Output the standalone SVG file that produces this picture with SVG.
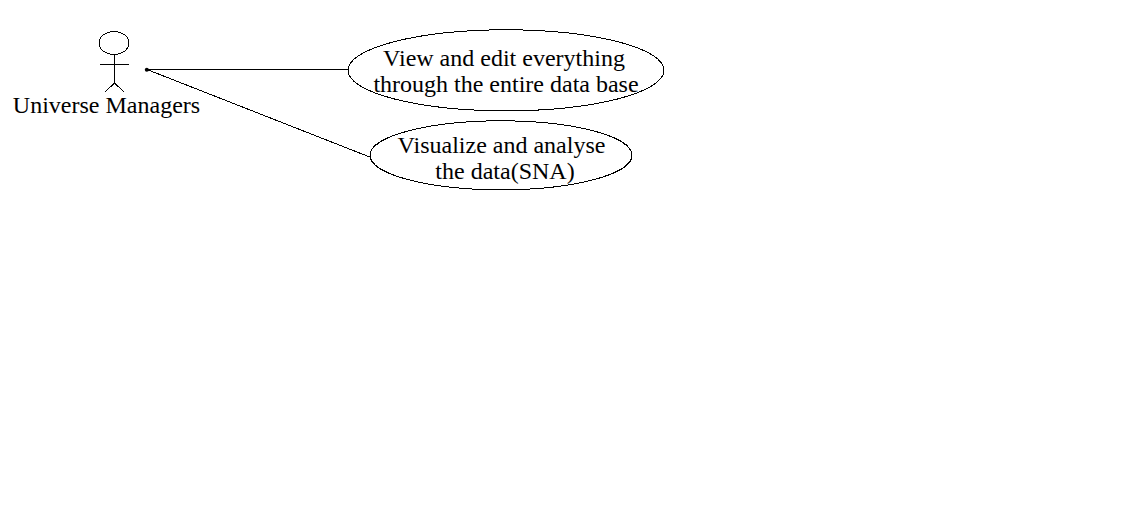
<svg xmlns="http://www.w3.org/2000/svg" width="1147" height="520" viewBox="0 0 1147 520">
<style>
.s{fill:none;stroke:#000;stroke-width:1;shape-rendering:crispEdges}
.t{font-family:"Liberation Serif",serif;font-size:24px;fill:#000;text-anchor:middle}
</style>
<rect width="1147" height="520" fill="#fff"/>
<g id="connectors">
<line class="s" x1="147" y1="69.5" x2="348" y2="69.5"/>
<line class="s" x1="147" y1="69.5" x2="371" y2="157.500"/>
<circle cx="146.8" cy="69.8" r="2" fill="#000"/>
</g>
<g id="actor">
<ellipse class="s" cx="114" cy="43" rx="15" ry="11.5"/>
<path class="s" d="M114.5 55V83M100 64.5H129M114.5 83L105 92M114.5 83L124 92"/>
<text class="t" x="106.500" y="113">Universe Managers</text>
</g>
<g id="usecase1">
<ellipse class="s" cx="506" cy="70.300" rx="158" ry="40.500"/>
<text class="t" x="504" y="65.500">View and edit everything</text>
<text class="t" x="506" y="91.500">through the entire data base</text>
</g>
<g id="usecase2">
<ellipse class="s" cx="501" cy="155.300" rx="131" ry="34.500"/>
<text class="t" x="501.500" y="152.500">Visualize and analyse</text>
<text class="t" x="505" y="178.500">the data(SNA)</text>
</g>
</svg>
